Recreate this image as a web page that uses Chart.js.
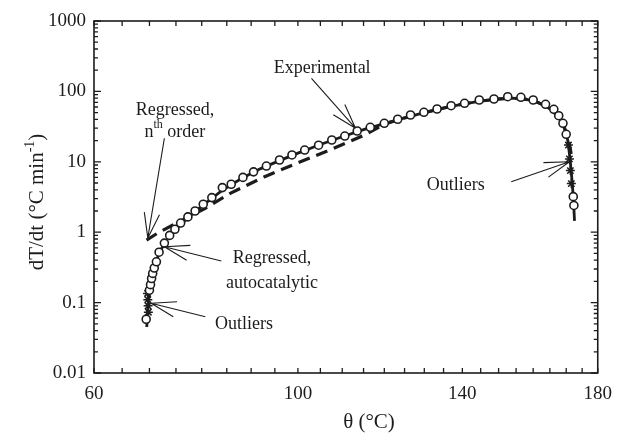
<!DOCTYPE html>
<html>
<head>
<meta charset="utf-8">
<script src="https://cdn.jsdelivr.net/npm/chart.js@4.4.1/dist/chart.umd.min.js"></script>
<style>
  html, body { margin: 0; padding: 0; background: #fff; }
  #wrap { width: 622px; height: 434px; position: relative; }
</style>
</head>
<body>
<div id="wrap"><canvas id="grafico"></canvas></div>
<script>
// experimental points (circles)
const expTemp = [69.4, 70.0, 70.2, 70.4, 70.6, 70.9, 71.3, 71.8, 72.8, 73.8, 74.8, 75.9, 77.3, 78.7, 80.3, 82.0,
  84.1, 85.9, 88.3, 90.5, 93.2, 96.0, 98.7, 101.5, 104.6, 107.6, 110.6, 113.5, 116.6, 120.0, 123.3, 126.5,
  129.9, 133.3, 137.0, 140.6, 144.6, 148.7, 152.6, 156.4, 160.0, 163.7, 166.2, 167.7, 169.0, 170.0, 172.2, 172.4];
const expRate = [0.058, 0.15, 0.18, 0.22, 0.26, 0.31, 0.38, 0.52, 0.70, 0.90, 1.10, 1.35, 1.65, 2.0, 2.5, 3.1,
  4.3, 4.8, 6.0, 7.2, 8.7, 10.6, 12.5, 14.7, 17.2, 20.4, 23.2, 27.4, 30.9, 35.2, 40.2, 46.2,
  50.5, 56.2, 62.6, 67.8, 75.5, 78.0, 84.1, 82.5, 75.5, 65.6, 55.7, 45.2, 35.2, 24.6, 3.2, 2.4];

// outliers (stars)
const outTemp = [69.65, 69.7, 69.75, 69.8, 170.7, 171.0, 171.3, 171.6];
const outRate = [0.135, 0.11, 0.09, 0.073, 17.3, 11.0, 7.5, 4.9];

// regressed, autocatalytic (solid)
const autoTemp = [69.5, 69.7, 69.9, 70.2, 70.6, 71.1, 71.8, 72.8, 74.0, 75.5, 77.5, 80, 84, 88, 92, 96, 100,
  105, 110, 115, 120, 125, 130, 135, 140, 145, 150, 154, 158, 161, 164, 166, 168, 169.5, 170.5, 171.2, 171.8, 172.2, 172.6];
const autoRate = [0.045, 0.08, 0.12, 0.18, 0.26, 0.36, 0.50, 0.69, 0.92, 1.2, 1.65, 2.35, 3.9, 5.8, 8.0, 10.4, 13.3,
  17.6, 22.7, 28.6, 34.8, 42, 50, 58, 66, 73, 78, 80, 77, 71, 61, 52, 41, 30, 20, 11, 5.5, 3.2, 1.45];

// regressed, nth order (dashed)
const nthTemp = [69.46, 71.8, 80.7, 85.8, 92.7, 99.7, 107.1, 114.7, 120.2, 125, 130, 135, 140, 145, 150, 154,
  158, 161, 164, 166, 168, 169.5, 170.6, 171.3, 171.6];
const nthRate = [0.77, 1.0, 2.19, 3.6, 6.1, 9.5, 14.7, 23.2, 34.5, 42, 50, 58, 66, 73, 78, 80,
  77, 71, 61, 52, 41, 30, 21, 15, 12.5];

const xTicks = [60, 100, 140, 180];
const yTicks = [0.01, 0.1, 1, 10, 100, 1000];

// annotations, in data coordinates
const notes = [
  { lines: [[{ t: 'Experimental' }]], at: [105.4, 215], tail: [103.0, 153], tip: [113.1, 30] },
  { lines: [[{ t: 'Regressed,' }], [{ t: 'n' }, { t: 'th', sup: true }, { t: ' order' }]], gap: 22,
    at: [74.8, 54.4], tail: [72.8, 21.6], tip: [69.7, 0.83] },
  { lines: [[{ t: 'Regressed,' }], [{ t: 'autocatalytic' }]], gap: 25,
    at: [94.4, 0.426], tail: [83.9, 0.39], tip: [72.8, 0.62] },
  { lines: [[{ t: 'Outliers' }]], at: [88.5, 0.049], tail: [80.7, 0.063], tip: [70.3, 0.098] },
  { lines: [[{ t: 'Outliers' }]], at: [138.2, 4.68], tail: [153.6, 5.21], tip: [171.0, 10.0] }
];

const SERIF = '"Liberation Serif", "Times New Roman", serif';
const INK = '#1c1c1c';

// x axis is linear in 1/T (Arrhenius style), labelled in °C
const inv = t => -1 / (t + 273.15);
class InverseTempScale extends Chart.LinearScale {
  getPixelForValue(value) {
    const a = inv(this.min), b = inv(this.max);
    return this.getPixelForDecimal((inv(value) - a) / (b - a));
  }
  getValueForPixel(pixel) {
    const a = inv(this.min), b = inv(this.max);
    return -1 / (a + this.getDecimalForPixel(pixel) * (b - a)) - 273.15;
  }
}
InverseTempScale.id = 'inverseTemp';
InverseTempScale.defaults = Chart.LinearScale.defaults;
Chart.register(InverseTempScale);

const pts = (xs, ys) => xs.map((v, i) => ({ x: v, y: ys[i] }));

function drawRich(ctx, parts, cx, cy, size) {
  const widths = parts.map(p => {
    ctx.font = (p.sup ? Math.round(size * 0.65) : size) + 'px ' + SERIF;
    return ctx.measureText(p.t).width;
  });
  let x = cx - widths.reduce((s, w) => s + w, 0) / 2;
  parts.forEach((p, i) => {
    ctx.font = (p.sup ? Math.round(size * 0.65) : size) + 'px ' + SERIF;
    ctx.fillText(p.t, x, p.sup ? cy - size * 0.42 : cy);
    x += widths[i];
  });
}

const decor = {
  id: 'decor',
  afterDatasetsDraw(chart) {
    const { ctx, chartArea: a, scales: { x, y } } = chart;
    ctx.save();
    ctx.strokeStyle = INK;
    ctx.fillStyle = INK;

    // frame
    ctx.lineWidth = 1.6;
    ctx.strokeRect(a.left, a.top, a.right - a.left, a.bottom - a.top);

    // inward ticks
    ctx.lineWidth = 1.3;
    ctx.beginPath();
    for (let t = 60; t <= 180; t += 5) {
      const px = x.getPixelForValue(t);
      ctx.moveTo(px, a.bottom); ctx.lineTo(px, a.bottom - 5);
      ctx.moveTo(px, a.top); ctx.lineTo(px, a.top + 5);
    }
    for (let e = -2; e <= 3; e++) {
      for (let m = 1; m <= 9; m++) {
        const v = m * Math.pow(10, e);
        if (v > 1000) break;
        const py = y.getPixelForValue(v);
        const len = m === 1 ? 7 : 4;
        ctx.moveTo(a.left, py); ctx.lineTo(a.left + len, py);
        ctx.moveTo(a.right, py); ctx.lineTo(a.right - len, py);
      }
    }
    ctx.stroke();

    // annotations
    ctx.lineWidth = 1.1;
    ctx.textAlign = 'left';
    ctx.textBaseline = 'middle';
    notes.forEach(n => {
      const cx = x.getPixelForValue(n.at[0]), cy = y.getPixelForValue(n.at[1]);
      n.lines.forEach((parts, i) => drawRich(ctx, parts, cx, cy + i * (n.gap || 0), 18));
      const tx = x.getPixelForValue(n.tail[0]), ty = y.getPixelForValue(n.tail[1]);
      const hx = x.getPixelForValue(n.tip[0]), hy = y.getPixelForValue(n.tip[1]);
      const ang = Math.atan2(ty - hy, tx - hx);
      ctx.beginPath();
      ctx.moveTo(tx, ty); ctx.lineTo(hx, hy);
      [-0.3, 0.3].forEach(d => {
        ctx.moveTo(hx, hy);
        ctx.lineTo(hx + 26 * Math.cos(ang + d), hy + 26 * Math.sin(ang + d));
      });
      ctx.stroke();
    });

    // axis titles
    ctx.textBaseline = 'alphabetic';
    drawRich(ctx, [{ t: 'θ (°C)' }], 369, 428, 21);
    ctx.translate(43, 202);
    ctx.rotate(-Math.PI / 2);
    drawRich(ctx, [{ t: 'dT/dt (°C min' }, { t: '-1', sup: true }, { t: ')' }], 0, 0, 21);
    ctx.restore();
  }
};

new Chart(document.getElementById('grafico'), {
  type: 'scatter',
  data: {
    datasets: [
      {
        label: 'Experimental',
        data: pts(expTemp, expRate),
        showLine: false,
        pointStyle: 'circle',
        pointRadius: 4,
        pointBackgroundColor: '#fff',
        pointBorderColor: INK,
        pointBorderWidth: 1.6,
        order: 0
      },
      {
        label: 'Outliers',
        data: pts(outTemp, outRate),
        showLine: false,
        pointStyle: 'star',
        pointRadius: 4.5,
        pointBorderColor: INK,
        pointBorderWidth: 1.5,
        order: 1
      },
      {
        label: 'Regressed, autocatalytic',
        data: pts(autoTemp, autoRate),
        showLine: true,
        borderColor: INK,
        borderWidth: 2.8,
        pointRadius: 0,
        tension: 0,
        order: 2
      },
      {
        label: 'Regressed, nth order',
        data: pts(nthTemp, nthRate),
        showLine: true,
        borderColor: INK,
        borderWidth: 3.2,
        borderDash: [12, 7],
        pointRadius: 0,
        tension: 0,
        order: 3
      }
    ]
  },
  options: {
    responsive: true,
    maintainAspectRatio: false,
    animation: false,
    events: [],
    layout: { padding: { left: 0, right: 15, top: 21, bottom: 0 } },
    plugins: { legend: { display: false }, tooltip: { enabled: false } },
    scales: {
      x: {
        type: 'inverseTemp',
        min: 60,
        max: 180,
        afterBuildTicks: s => { s.ticks = xTicks.map(v => ({ value: v })); },
        afterFit: s => { s.height = 61; },
        grid: { display: false, drawTicks: false },
        border: { display: false },
        ticks: {
          autoSkip: false, maxRotation: 0, padding: 10, color: INK,
          font: { family: SERIF, size: 19 },
          callback: v => String(v)
        }
      },
      y: {
        type: 'logarithmic',
        min: 0.01,
        max: 1000,
        afterBuildTicks: s => { s.ticks = yTicks.map(v => ({ value: v })); },
        afterFit: s => { s.width = 94; },
        grid: { display: false, drawTicks: false },
        border: { display: false },
        ticks: {
          autoSkip: false, padding: 8, color: INK,
          font: { family: SERIF, size: 19 },
          callback: v => String(v)
        }
      }
    }
  },
  plugins: [decor]
});
</script>
</body>
</html>
